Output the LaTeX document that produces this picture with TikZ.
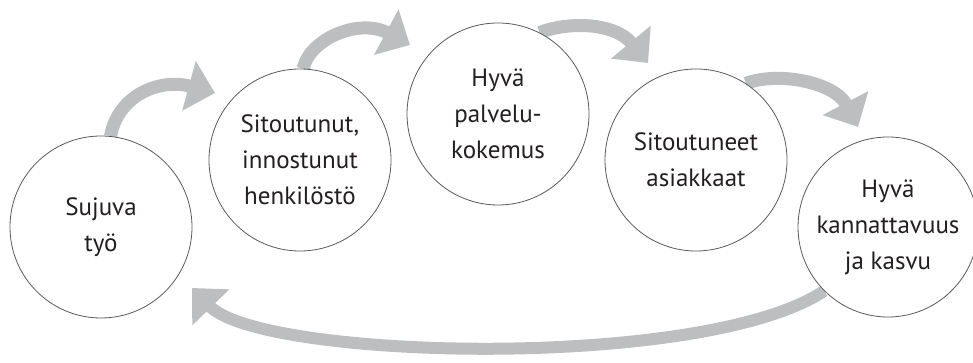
\documentclass[tikz,border=0pt]{standalone}
\usepackage{fontspec}
\setmainfont{PT Sans}
\usetikzlibrary{arrows.meta,backgrounds}
\definecolor{arrowgray}{RGB}{188,190,192}
\definecolor{ringgray}{RGB}{90,90,90}
\definecolor{textblack}{RGB}{35,31,32}
\begin{document}
\begin{tikzpicture}[x=1pt,y=1pt,
  bubble/.style={circle,draw=ringgray,line width=0.8pt,fill=white,minimum size=182pt,inner sep=0pt,
    align=center,text=textblack,font=\fontsize{25}{36}\selectfont},
  flow/.style={draw=arrowgray,line width=13pt,-{Triangle[length=27pt,width=50pt]},arrowgray}]
\useasboundingbox (0,0) rectangle (973,363);
\node[bubble] (c1) at (101,136) {Sujuva\\työ};
\node[bubble] (c2) at (300,203) {Sitoutunut,\\innostunut\\henkilöstö};
\node[bubble] (c3) at (498,249) {Hyvä\\palvelu-\\kokemus};
\node[bubble] (c4) at (696,203) {Sitoutuneet\\asiakkaat};
\node[bubble,minimum size=180pt] (c5) at (888,136) {Hyvä\\kannattavuus\\ja kasvu};
\coordinate (t1) at (215,270);
\coordinate (t2) at (410,318);
\coordinate (t3) at (648,300);
\coordinate (t4) at (858,236);
\coordinate (t5) at (192,75);
\begin{scope}[on background layer]
\draw[flow] (c1.84) .. controls (118,268) and (160,285) .. (t1);
\draw[flow] (c2.88) .. controls (310,325) and (360,345) .. (t2);
\draw[flow] (c3.63) .. controls (570,342) and (615,340) .. (t3);
\draw[flow] (c4.57) .. controls (780,292) and (835,280) .. (t4);
\draw[flow,line width=12pt] (c5.225) .. controls (704,-8) and (262,3) .. (t5);
\end{scope}
\end{tikzpicture}
\end{document}
